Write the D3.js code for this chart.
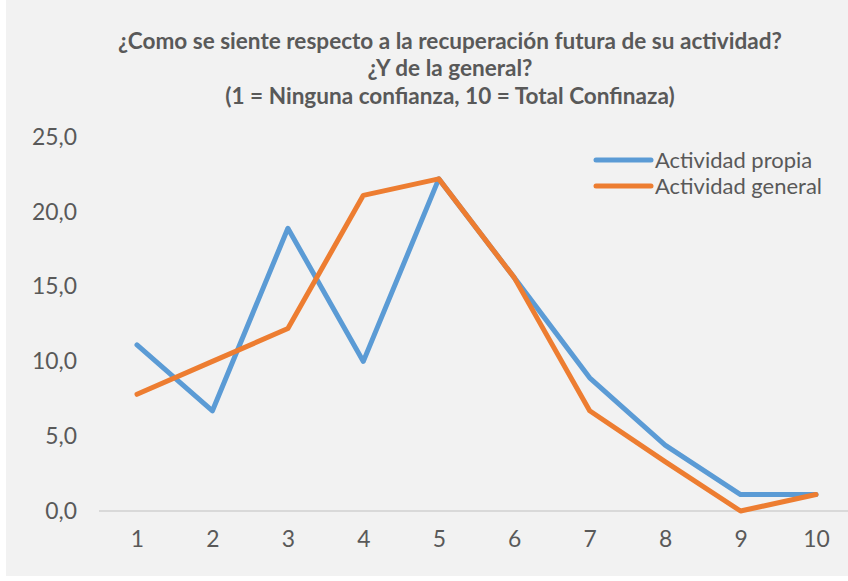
<!DOCTYPE html>
<html>
<head>
<meta charset="utf-8">
<script src="https://cdn.jsdelivr.net/npm/d3@7"></script>
<style>
  html, body { margin: 0; padding: 0; background: #ffffff; }
  svg { display: block; }
</style>
</head>
<body>
<div id="chart"></div>
<script>
const categories = ["1", "2", "3", "4", "5", "6", "7", "8", "9", "10"];
const actividadPropia = [11.1, 6.7, 18.9, 10.0, 22.2, 15.6, 8.9, 4.4, 1.1, 1.1];
const actividadGeneral = [7.8, 10.0, 12.2, 21.1, 22.2, 15.6, 6.7, 3.3, 0.0, 1.1];
const seriesNames = ["Actividad propia", "Actividad general"];
const yTicks = [0, 5, 10, 15, 20, 25];
const titleLines = [
  "¿Como se siente respecto a la recuperación futura de su actividad?",
  "¿Y de la general?",
  "(1 = Ninguna confianza, 10 = Total Confinaza)"
];

const width = 848, height = 581;
const font = "Lato, 'Open Sans', sans-serif";
const textColor = "#595959";
const colors = ["#5B9BD5", "#ED7D31"];

const svg = d3.select("#chart").append("svg")
  .attr("width", width)
  .attr("height", height);

// chart area background (white strip left and bottom)
svg.append("rect")
  .attr("x", 6).attr("y", 0)
  .attr("width", width - 6).attr("height", 576)
  .attr("fill", "#f2f2f2");

// helper: fit a text element to a target width by adjusting font size
function fitWidth(sel, target) {
  const node = sel.node();
  const fs = parseFloat(sel.attr("font-size"));
  const w = node.getComputedTextLength();
  const size = +(fs * target / w).toFixed(2);
  sel.attr("font-size", size);
  return size;
}

// title
const title = svg.append("g")
  .attr("font-family", font)
  .attr("font-weight", "bold")
  .attr("fill", textColor)
  .attr("text-anchor", "middle");
const t0 = title.append("text").attr("x", 450).attr("y", 49)
  .attr("font-size", 20).text(titleLines[0]);
const titleSize = fitWidth(t0, 664);
title.append("text").attr("x", 450).attr("y", 76)
  .attr("font-size", titleSize).text(titleLines[1]);
title.append("text").attr("x", 450).attr("y", 104)
  .attr("font-size", titleSize).text(titleLines[2]);

// scales
const x = d3.scalePoint()
  .domain(categories)
  .range([137, 816]);

const y = d3.scaleLinear()
  .domain([0, 25])
  .range([511, 137]);

const fmt = d => d3.format(".1f")(d).replace(".", ",");

// measure tick label size so "25,0" is about 45px wide
const probe = svg.append("text")
  .attr("font-family", font).attr("font-size", 20).text(fmt(25));
const tickSize = fitWidth(probe, 45);
probe.remove();

// y axis labels
const yAxis = svg.append("g")
  .attr("transform", "translate(80,0)")
  .call(d3.axisLeft(y).tickValues(yTicks).tickSize(0).tickPadding(3).tickFormat(fmt));
yAxis.select(".domain").remove();
yAxis.selectAll("text")
  .attr("font-family", font)
  .attr("font-size", tickSize)
  .attr("fill", textColor);

// baseline
svg.append("line")
  .attr("x1", 99).attr("x2", width)
  .attr("y1", y(0)).attr("y2", y(0))
  .attr("stroke", "#d9d9d9")
  .attr("stroke-width", 2);

// x axis labels
const xAxis = svg.append("g")
  .attr("transform", "translate(0," + y(0) + ")")
  .call(d3.axisBottom(x).tickSize(0).tickPadding(20));
xAxis.select(".domain").remove();
xAxis.selectAll("text")
  .attr("font-family", font)
  .attr("font-size", tickSize)
  .attr("fill", textColor);

// lines
const line = d3.line()
  .x((d, i) => x(categories[i]))
  .y(d => y(d));

[actividadPropia, actividadGeneral].forEach((s, k) => {
  svg.append("path")
    .datum(s)
    .attr("fill", "none")
    .attr("stroke", colors[k])
    .attr("stroke-width", 5)
    .attr("stroke-linecap", "round")
    .attr("stroke-linejoin", "round")
    .attr("d", line);
});

// legend
const legend = svg.append("g").attr("transform", "translate(596,160)");
let legendSize = null;
seriesNames.forEach((name, k) => {
  const g = legend.append("g").attr("transform", "translate(0," + (k * 26) + ")");
  g.append("line")
    .attr("x1", 0).attr("x2", 55)
    .attr("stroke", colors[k])
    .attr("stroke-width", 5)
    .attr("stroke-linecap", "round");
  const t = g.append("text")
    .attr("x", 59).attr("y", 0)
    .attr("dy", "0.35em")
    .attr("font-family", font)
    .attr("font-size", 20)
    .attr("fill", textColor)
    .text(name);
  if (k === 1) legendSize = fitWidth(t, 167);
});
legend.selectAll("text").attr("font-size", legendSize);
</script>
</body>
</html>
